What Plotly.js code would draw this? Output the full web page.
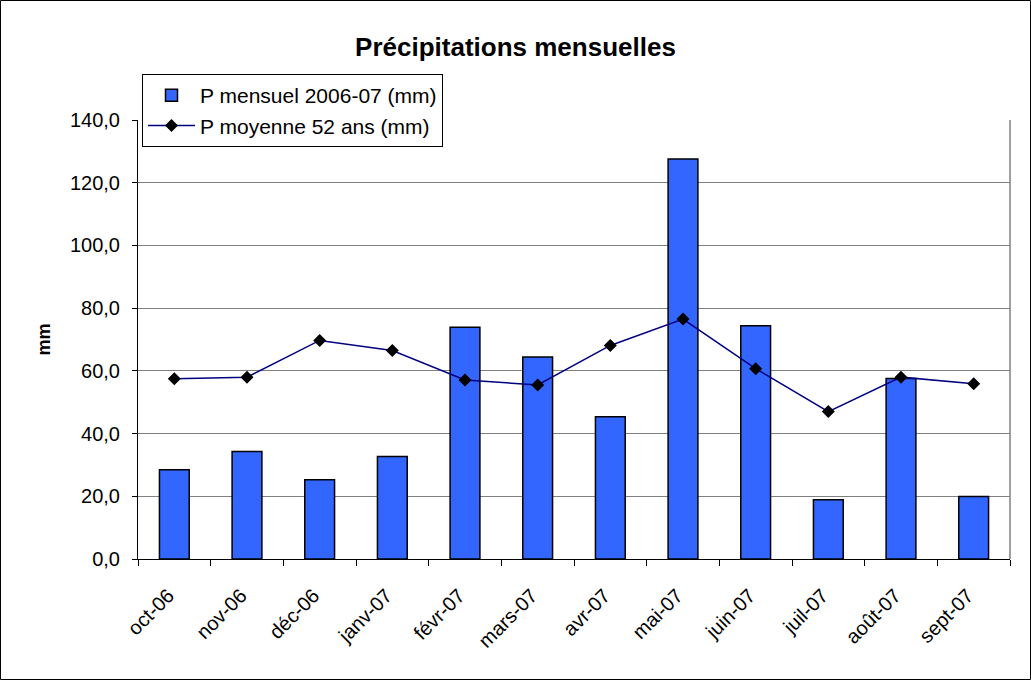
<!DOCTYPE html>
<html>
<head>
<meta charset="utf-8">
<script src="https://cdn.plot.ly/plotly-3.0.1.min.js"></script>
<style>
html,body{margin:0;padding:0;background:#fff;}
#chart{width:1031px;height:680px;}
</style>
</head>
<body>
<div id="chart"></div>
<script>
const months = ["oct-06","nov-06","déc-06","janv-07","févr-07","mars-07","avr-07","mai-07","juin-07","juil-07","août-07","sept-07"];
const pMensuel = [28.5, 34.3, 25.3, 32.7, 73.9, 64.4, 45.4, 127.6, 74.4, 18.9, 57.6, 19.9];
const pMoyenne = [57.5, 58.0, 69.7, 66.5, 57.1, 55.5, 68.1, 76.5, 60.7, 47.0, 58.0, 55.9];
const yTicks = [0, 20, 40, 60, 80, 100, 120, 140];

const L = 138, R = 21, T = 120, B = 121, W = 1031, H = 680;
const pw = W - L - R, ph = H - T - B;
const font = "Liberation Sans, Arial, sans-serif";

const traces = [
  {
    type: "bar", name: "P mensuel 2006-07 (mm)", x: months, y: pMensuel,
    marker: {color: "#3366FF", line: {color: "#000000", width: 1.5}}
  },
  {
    type: "scatter", mode: "lines+markers", name: "P moyenne 52 ans (mm)", x: months, y: pMoyenne,
    line: {color: "#000080", width: 1.5},
    marker: {symbol: "diamond", color: "#000000", size: 10}
  }
];

const layout = {
  width: W, height: H,
  margin: {l: L, r: R, t: T, b: B, pad: 0, autoexpand: false},
  paper_bgcolor: "#ffffff", plot_bgcolor: "#ffffff",
  separators: ", ",
  font: {family: font, size: 20, color: "#000"},
  title: {text: "<b>Précipitations mensuelles</b>", font: {family: font, size: 26, color: "#000"},
          x: 0.5, xref: "container", y: 1 - 47/680, yref: "container", yanchor: "middle"},
  bargap: 0.59,
  showlegend: true,
  legend: {x: 4/pw, xanchor: "left", y: 1 + 46/ph, yanchor: "top",
           bgcolor: "#ffffff", bordercolor: "#000000", borderwidth: 1,
           font: {family: font, size: 21, color: "#000"}, tracegroupgap: 0, itemwidth: 47},
  xaxis: {
    type: "category", range: [-0.5, months.length - 0.5], tickson: "boundaries", ticks: "outside", ticklen: 6, tickcolor: "#000",
    showline: true, linecolor: "#000", linewidth: 1, tickangle: -45, automargin: false,
    ticklabelstandoff: 16, ticklabelshift: -6,
    tickfont: {family: font, size: 20, color: "#000"}, showgrid: false, fixedrange: true
  },
  yaxis: {
    range: [0, 140], tickvals: yTicks, tickformat: ".1f", automargin: false,
    ticks: "outside", ticklen: 5, tickcolor: "#000", ticklabelstandoff: 8,
    showline: true, linecolor: "#000", linewidth: 1,
    showgrid: true, gridcolor: "#808080", gridwidth: 1, zeroline: false,
    tickfont: {family: font, size: 20, color: "#000"},
    title: {text: "<b>mm</b>", font: {family: font, size: 18, color: "#000"}, standoff: 14},
    fixedrange: true
  },
  shapes: [
    {type: "line", xref: "paper", yref: "paper", x0: 1, x1: 1, y0: 0, y1: 1, line: {color: "#808080", width: 1.5}},
    {type: "rect", xref: "paper", yref: "paper",
     x0: (0.5 - L)/pw, x1: (W - 0.5 - L)/pw, y0: (H - B - (H - 0.5))/ph, y1: (H - B - 0.5)/ph,
     line: {color: "#000", width: 1}}
  ]
};

Plotly.newPlot("chart", traces, layout, {displayModeBar: false, staticPlot: true});
</script>
</body>
</html>
